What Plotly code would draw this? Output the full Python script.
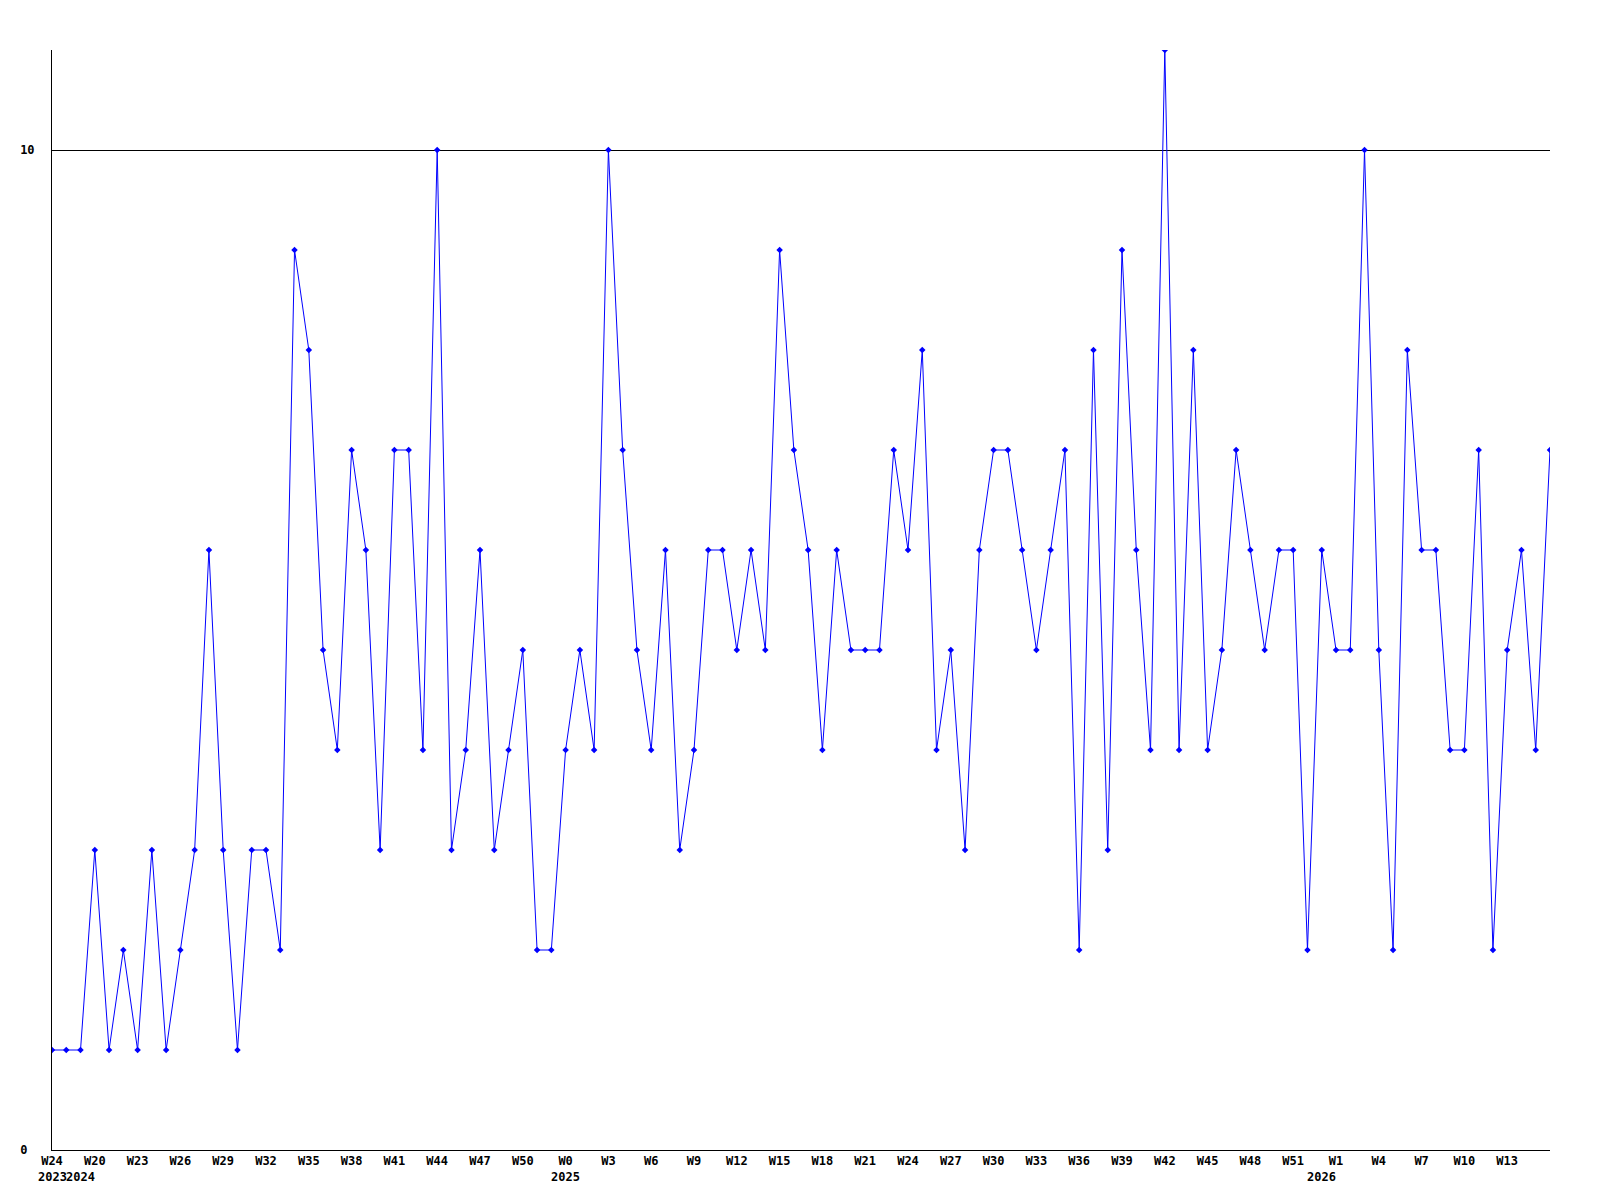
import plotly.graph_objects as go

# Weekly counts, one value per week (index order)
values = [1, 1, 1, 3, 1, 2, 1, 3, 1, 2,
          3, 6, 3, 1, 3, 3, 2, 9, 8, 5,
          4, 7, 6, 3, 7, 7, 4, 10, 3, 4,
          6, 3, 4, 5, 2, 2, 4, 5, 4, 10,
          7, 5, 4, 6, 3, 4, 6, 6, 5, 6,
          5, 9, 7, 6, 4, 6, 5, 5, 5, 7,
          6, 8, 4, 5, 3, 6, 7, 7, 6, 5,
          6, 7, 2, 8, 3, 9, 6, 4, 11, 4,
          8, 4, 5, 7, 6, 5, 6, 6, 2, 6,
          5, 5, 10, 5, 2, 8, 6, 6, 4, 4,
          7, 2, 5, 6, 4, 7]

# Tick labels (every third week)
tick_weeks = ["W24", "W20", "W23", "W26", "W29", "W32", "W35", "W38", "W41",
              "W44", "W47", "W50", "W0", "W3", "W6", "W9", "W12", "W15",
              "W18", "W21", "W24", "W27", "W30", "W33", "W36", "W39", "W42",
              "W45", "W48", "W51", "W1", "W4", "W7", "W10", "W13"]
# Year labels and the week index where each year starts
years = ["2023", "2024", "2025", "2026"]
year_start_index = [0, 2, 36, 89]

x = list(range(len(values)))
tick_step = 3
tickvals = [i * tick_step for i in range(len(tick_weeks))]

fig = go.Figure()
fig.add_trace(go.Scatter(
    x=x, y=values, mode="lines+markers",
    line=dict(color="#0000ff", width=1),
    marker=dict(color="#0000ff", size=5, symbol="diamond"),
    showlegend=False, hoverinfo="skip",
))

font = dict(family="DejaVu Sans Mono, Liberation Mono, monospace", size=12,
            color="black", weight="bold")

for yr, xi in zip(years, year_start_index):
    fig.add_annotation(x=xi, y=0, xref="x", yref="paper", text=yr,
                       showarrow=False, xanchor="center", yanchor="top",
                       yshift=-18, font=font)

fig.update_layout(
    width=1592, height=1192,
    margin=dict(l=42, r=50, t=42, b=50),
    paper_bgcolor="white", plot_bgcolor="white",
    font=font,
)
fig.update_xaxes(
    range=[0, len(values) - 1], tickvals=tickvals, ticktext=tick_weeks,
    showgrid=False, zeroline=False, showline=True, linecolor="black",
    linewidth=1, ticks="", tickfont=font, tickangle=0,
)
fig.update_yaxes(
    range=[0, 11], tickvals=[0, 10], ticktext=["0&nbsp;", "10"],
    showgrid=True, gridcolor="black", gridwidth=1,
    zeroline=False, showline=True, linecolor="black", linewidth=1,
    ticks="", tickfont=font, ticklabelstandoff=14,
)

fig.write_html("out.html")
